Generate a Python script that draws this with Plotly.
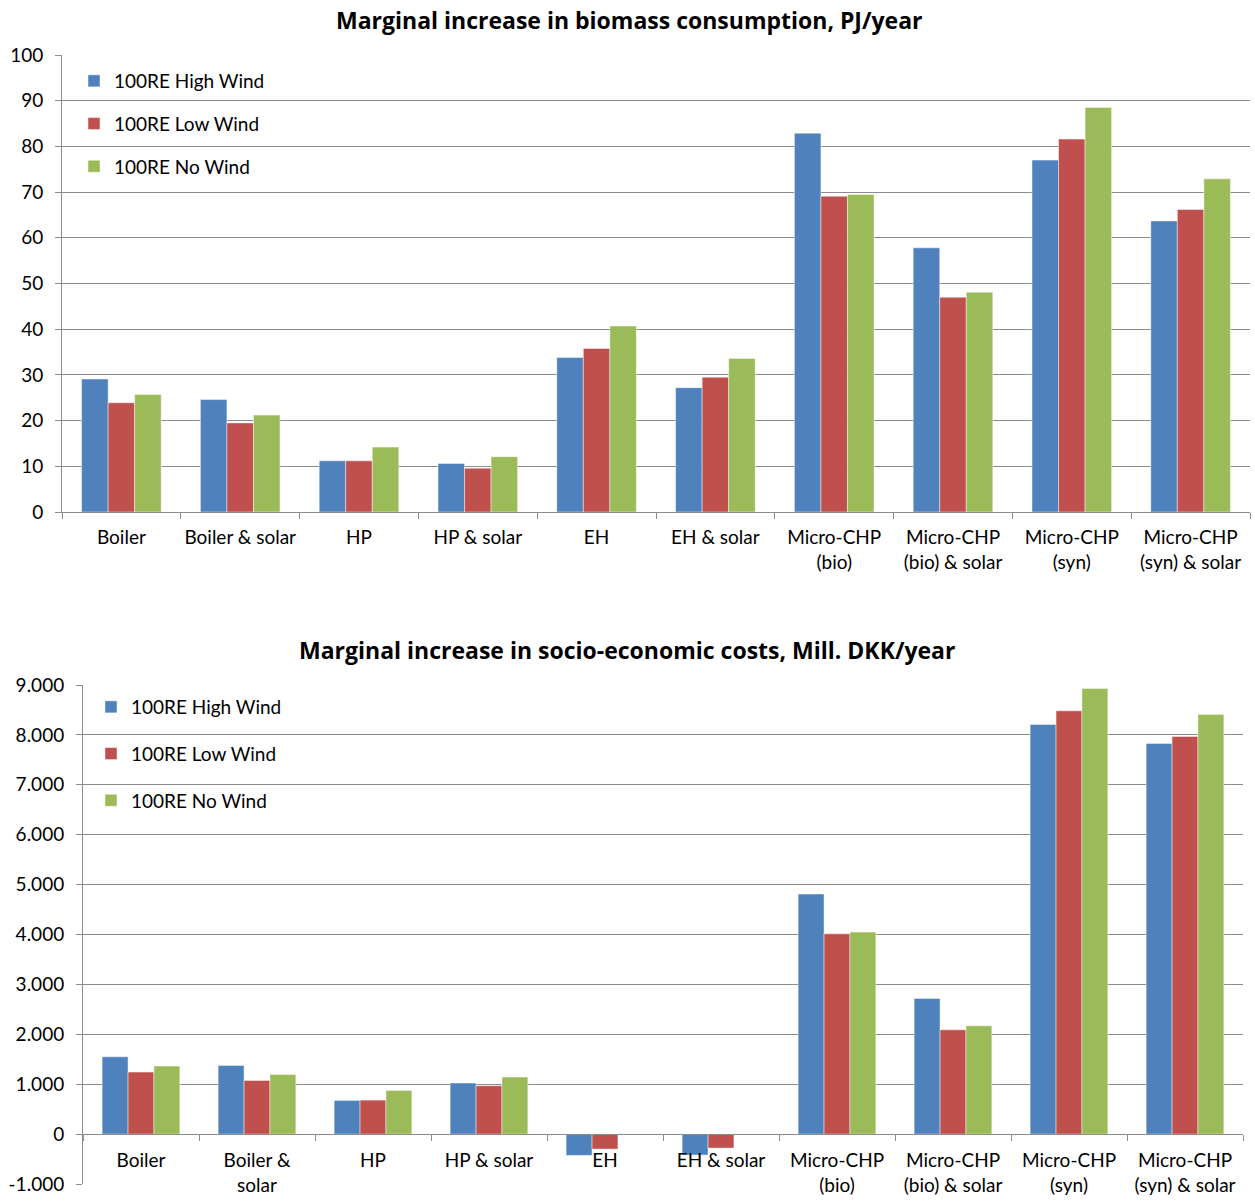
import plotly.graph_objects as go

# Heating technology options on the category axis
categories = ["Boiler", "Boiler & solar", "HP", "HP & solar", "EH", "EH & solar",
              "Micro-CHP<br>(bio)", "Micro-CHP<br>(bio) & solar",
              "Micro-CHP<br>(syn)", "Micro-CHP<br>(syn) & solar"]
categories_costs = ["Boiler", "Boiler &<br>solar", "HP", "HP & solar", "EH", "EH & solar",
                    "Micro-CHP<br>(bio)", "Micro-CHP<br>(bio) & solar",
                    "Micro-CHP<br>(syn)", "Micro-CHP<br>(syn) & solar"]

series_names = ["100RE High Wind", "100RE Low Wind", "100RE No Wind"]
series_colors = ["#4F81BD", "#C0504D", "#9BBB59"]

# Marginal increase in biomass consumption, PJ/year
biomass_high = [29.1, 24.6, 11.2, 10.6, 33.8, 27.2, 82.9, 57.8, 77.0, 63.7]
biomass_low = [23.9, 19.5, 11.2, 9.6, 35.8, 29.5, 69.1, 47.0, 81.6, 66.2]
biomass_no = [25.7, 21.2, 14.2, 12.1, 40.7, 33.6, 69.5, 48.1, 88.5, 72.9]

# Marginal increase in socio-economic costs, Mill. DKK/year
costs_high = [1549, 1377, 675, 1022, -427, -420, 4810, 2719, 8210, 7830]
costs_low = [1242, 1076, 681, 970, -300, -280, 4014, 2090, 8483, 7970]
costs_no = [1363, 1196, 876, 1142, 0, -15, 4048, 2170, 8932, 8411]

biomass_ticks = [0, 10, 20, 30, 40, 50, 60, 70, 80, 90, 100]
costs_ticks = [-1000, 0, 1000, 2000, 3000, 4000, 5000, 6000, 7000, 8000, 9000]
costs_ticklabels = ["-1.000", "0", "1.000", "2.000", "3.000", "4.000",
                    "5.000", "6.000", "7.000", "8.000", "9.000"]

W, H = 1255, 1201
FONT = "Lato"
TITLE_FONT = "Open Sans"
GRID = "#8C8C8C"


def px_x(v):
    return v / W


def px_y(v):
    return 1 - v / H


fig = go.Figure()

for name, color, vals in zip(series_names, series_colors,
                             [biomass_high, biomass_low, biomass_no]):
    fig.add_trace(go.Bar(x=categories, y=vals, name=name, marker_color=color,
                         marker_line=dict(color="rgba(255,255,255,0.45)", width=1),
                         xaxis="x", yaxis="y", legend="legend",
                         legendgroup="top_" + name))

for name, color, vals in zip(series_names, series_colors,
                             [costs_high, costs_low, costs_no]):
    fig.add_trace(go.Bar(x=categories_costs, y=vals, name=name, marker_color=color,
                         marker_line=dict(color="rgba(255,255,255,0.45)", width=1),
                         xaxis="x2", yaxis="y2", legend="legend2",
                         legendgroup="bot_" + name))

# bottom panel: y domain and the paper position of its zero line
y2_dom = [px_y(1184), px_y(685)]
y2_range = [-1000, 9000]
zero_pos = y2_dom[0] + (0 - y2_range[0]) / (y2_range[1] - y2_range[0]) * (y2_dom[1] - y2_dom[0])

axis_font = dict(family=FONT, size=19, color="#000000")
legend_font = dict(family=FONT, size=19, color="#000000")

fig.update_layout(
    width=W, height=H,
    margin=dict(l=0, r=0, t=0, b=0, autoexpand=False),
    paper_bgcolor="white", plot_bgcolor="white",
    barmode="group", bargap=0.33, bargroupgap=0,
    font=dict(family=FONT, size=19, color="#000000"),
    xaxis=dict(domain=[px_x(62), px_x(1250)], anchor="y", automargin=False,
               showline=True, linecolor=GRID, linewidth=1, tickangle=0,
               ticks="outside", tickson="boundaries", ticklen=6, tickcolor=GRID,
               tickfont=axis_font, showgrid=False, ticklabelstandoff=8),
    yaxis=dict(domain=[px_y(512), px_y(55)], anchor="x", range=[0, 100], automargin=False,
               tickvals=biomass_ticks, showline=True, linecolor=GRID, linewidth=1,
               ticks="outside", ticklen=6, tickcolor=GRID, tickfont=axis_font,
               showgrid=True, gridcolor=GRID, gridwidth=1, zeroline=False,
               ticklabelstandoff=8),
    xaxis2=dict(domain=[px_x(83), px_x(1243)], anchor="free", position=zero_pos,
                automargin=False, tickangle=0,
                showline=True, linecolor=GRID, linewidth=1,
                ticks="outside", tickson="boundaries", ticklen=6, tickcolor=GRID,
                tickfont=axis_font, showgrid=False, ticklabelstandoff=9),
    yaxis2=dict(domain=y2_dom, anchor="x2", range=y2_range, automargin=False,
                tickvals=costs_ticks, ticktext=costs_ticklabels,
                showline=True, linecolor=GRID, linewidth=1,
                ticks="outside", ticklen=6, tickcolor=GRID, tickfont=axis_font,
                showgrid=True, gridcolor=GRID, gridwidth=1, zeroline=False,
                ticklabelstandoff=8),
    legend=dict(x=px_x(74), y=px_y(62), xanchor="left", yanchor="top",
                font=legend_font, bgcolor="rgba(0,0,0,0)",
                tracegroupgap=15, traceorder="grouped"),
    legend2=dict(x=px_x(91), y=px_y(688), xanchor="left", yanchor="top",
                 font=legend_font, bgcolor="rgba(0,0,0,0)",
                 tracegroupgap=19, traceorder="grouped"),
    annotations=[
        dict(text="<b>Marginal increase in biomass consumption, PJ/year</b>",
             xref="paper", yref="paper", x=px_x(629), y=px_y(20),
             xanchor="center", yanchor="middle", showarrow=False,
             font=dict(family=TITLE_FONT, size=23, color="#000000")),
        dict(text="<b>Marginal increase in socio-economic costs, Mill. DKK/year</b>",
             xref="paper", yref="paper", x=px_x(627), y=px_y(650),
             xanchor="center", yanchor="middle", showarrow=False,
             font=dict(family=TITLE_FONT, size=23, color="#000000")),
    ],
)

fig.write_html("out.html")
